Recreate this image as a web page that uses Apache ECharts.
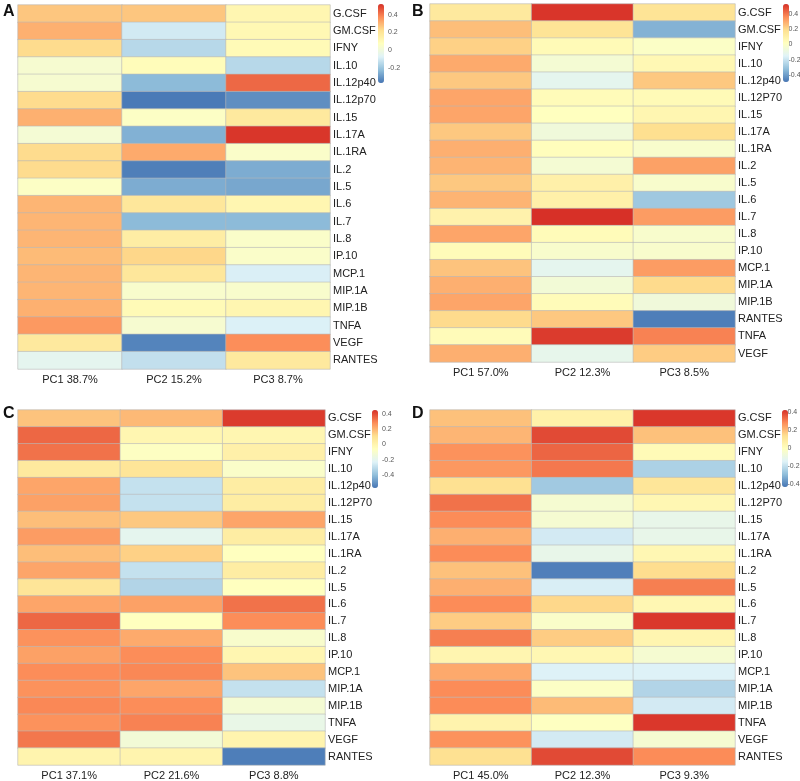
<!DOCTYPE html>
<html>
<head>
<meta charset="utf-8">
<script src="https://cdn.jsdelivr.net/npm/echarts@6/dist/echarts.min.js"></script>
<style>
  html, body { margin: 0; padding: 0; background: #fff; }
  #main { width: 800px; height: 781px; }
</style>
</head>
<body>
<div id="main"></div>
<script>
// columns shared by all panels
const pcsA = ['PC1 38.7%', 'PC2 15.2%', 'PC3 8.7%']
const pcsB = ['PC1 57.0%', 'PC2 12.3%', 'PC3 8.5%']
const pcsC = ['PC1 37.1%', 'PC2 21.6%', 'PC3 8.8%']
const pcsD = ['PC1 45.0%', 'PC2 12.3%', 'PC3 9.3%']

const rowsA = ['G.CSF', 'GM.CSF', 'IFNY', 'IL.10', 'IL.12p40', 'IL.12p70', 'IL.15', 'IL.17A', 'IL.1RA', 'IL.2', 'IL.5',
  'IL.6', 'IL.7', 'IL.8', 'IP.10', 'MCP.1', 'MIP.1A', 'MIP.1B', 'TNFA', 'VEGF', 'RANTES']
const rowsB = ['G.CSF', 'GM.CSF', 'IFNY', 'IL.10', 'IL.12p40', 'IL.12P70', 'IL.15', 'IL.17A', 'IL.1RA', 'IL.2', 'IL.5',
  'IL.6', 'IL.7', 'IL.8', 'IP.10', 'MCP.1', 'MIP.1A', 'MIP.1B', 'RANTES', 'TNFA', 'VEGF']
const rowsC = ['G.CSF', 'GM.CSF', 'IFNY', 'IL.10', 'IL.12p40', 'IL.12P70', 'IL.15', 'IL.17A', 'IL.1RA', 'IL.2', 'IL.5',
  'IL.6', 'IL.7', 'IL.8', 'IP.10', 'MCP.1', 'MIP.1A', 'MIP.1B', 'TNFA', 'VEGF', 'RANTES']
const rowsD = rowsC

// loadings per row: PC1, PC2, PC3
const valuesA = [
  [0.27, 0.27, 0.12], [0.31, -0.10, 0.11], [0.23, -0.15, 0.10], [0.03, 0.09, -0.15], [0.03, -0.23, 0.43],
  [0.23, -0.36, -0.32], [0.31, 0.06, 0.18], [0.02, -0.25, 0.51], [0.23, 0.32, 0.05], [0.23, -0.35, -0.26],
  [0.06, -0.26, -0.27], [0.30, 0.19, 0.12], [0.30, -0.23, -0.23], [0.30, 0.16, 0.05], [0.29, 0.24, 0.05],
  [0.30, 0.19, -0.085], [0.30, 0.04, 0.04], [0.31, 0.10, 0.12], [0.35, 0.03, -0.08], [0.18, -0.34, 0.37],
  [-0.05, -0.13, 0.18]
]
const valuesB = [
  [0.14, 0.52, 0.17], [0.26, 0.17, -0.35], [0.22, 0.05, 0.00], [0.30, -0.04, 0.06], [0.24, -0.12, 0.24],
  [0.31, 0.04, 0.05], [0.31, 0.02, 0.07], [0.24, -0.06, 0.19], [0.29, 0.03, -0.02], [0.28, -0.04, 0.32],
  [0.24, 0.10, -0.02], [0.28, 0.10, -0.29], [0.09, 0.53, 0.33], [0.31, 0.04, -0.02], [0.04, -0.02, -0.02],
  [0.25, -0.12, 0.33], [0.29, -0.05, 0.20], [0.31, 0.04, -0.06], [0.20, 0.24, -0.47], [0.04, 0.51, 0.38],
  [0.29, -0.11, 0.23]
]
const valuesC = [
  [0.17, 0.19, 0.43], [0.35, -0.01, -0.01], [0.33, -0.07, 0.02], [0.06, 0.08, -0.09], [0.23, -0.29, 0.04],
  [0.24, -0.29, 0.04], [0.18, 0.16, 0.23], [0.25, -0.20, 0.04], [0.18, 0.14, -0.06], [0.23, -0.29, 0.04],
  [0.08, -0.33, -0.06], [0.23, 0.24, 0.33], [0.35, -0.06, 0.28], [0.27, 0.22, -0.10], [0.24, 0.28, -0.01],
  [0.28, 0.29, 0.17], [0.27, 0.23, -0.29], [0.29, 0.28, -0.12], [0.27, 0.30, -0.18], [0.32, -0.13, 0.00],
  [0.00, 0.00, -0.55]
]
const valuesD = [
  [0.19, 0.06, 0.41], [0.21, 0.38, 0.19], [0.27, 0.34, 0.02], [0.26, 0.31, -0.24], [0.13, -0.26, 0.11],
  [0.32, -0.05, 0.03], [0.28, -0.05, -0.11], [0.22, -0.17, -0.11], [0.28, -0.11, 0.03], [0.19, -0.41, 0.14],
  [0.22, -0.16, 0.30], [0.28, 0.15, 0.03], [0.17, -0.03, 0.41], [0.30, 0.17, 0.04], [0.04, 0.03, -0.05],
  [0.23, -0.15, -0.15], [0.28, -0.02, -0.23], [0.28, 0.20, -0.17], [0.05, -0.01, 0.41], [0.27, -0.17, -0.05],
  [0.13, 0.38, 0.28]
]

// colour key ranges and their tick labels
const rangeA = [-0.37, 0.52]
const rangeB = [-0.49, 0.53]
const rangeC = [-0.57, 0.45]
const rangeD = [-0.43, 0.42]
const ticksA = [-0.2, 0, 0.2, 0.4]
const ticksB = [-0.4, -0.2, 0, 0.2, 0.4]
const ticksC = [-0.4, -0.2, 0, 0.2, 0.4]
const ticksD = [-0.4, -0.2, 0, 0.2, 0.4]

const palette = ['#4575B4', '#91BFDB', '#E0F3F8', '#FFFFBF', '#FEE090', '#FC8D59', '#D73027']

const panels = [
  { letter: 'A', cols: pcsA, rows: rowsA, vals: valuesA, range: rangeA, ticks: ticksA,
    box: { left: 18, top: 5, width: 312, height: 364 }, key: { left: 378, top: 4, height: 79 }, lx: 3, ly: 4 },
  { letter: 'B', cols: pcsB, rows: rowsB, vals: valuesB, range: rangeB, ticks: ticksB,
    box: { left: 430, top: 4, width: 305, height: 358 }, key: { left: 783, top: 4, height: 78 }, lx: 412, ly: 4 },
  { letter: 'C', cols: pcsC, rows: rowsC, vals: valuesC, range: rangeC, ticks: ticksC,
    box: { left: 18, top: 410, width: 307, height: 360 }, key: { left: 372, top: 410, height: 78 }, lx: 3, ly: 406 },
  { letter: 'D', cols: pcsD, rows: rowsD, vals: valuesD, range: rangeD, ticks: ticksD,
    box: { left: 430, top: 410, width: 305, height: 358 }, key: { left: 782, top: 410, height: 77 }, lx: 412, ly: 406 }
]

const grid = [], xAxis = [], yAxis = [], series = [], visualMap = [], graphic = []
const font = 'Liberation Sans, Arial, sans-serif'

panels.forEach((p, i) => {
  // heatmap grid
  grid.push(Object.assign({ containLabel: false }, p.box))
  xAxis.push({
    type: 'category', gridIndex: 2 * i, data: p.cols, position: 'bottom',
    axisLine: { show: false }, axisTick: { show: false }, splitLine: { show: false },
    axisLabel: { fontSize: 11, color: '#222', margin: 5, fontFamily: font }
  })
  yAxis.push({
    type: 'category', gridIndex: 2 * i, data: p.rows, position: 'right', inverse: true,
    axisLine: { show: false }, axisTick: { show: false }, splitLine: { show: false },
    axisLabel: { fontSize: 11, color: '#222', margin: 3, fontFamily: font }
  })
  const data = []
  p.vals.forEach((row, r) => row.forEach((v, c) => data.push([c, r, v])))
  series.push({
    type: 'heatmap', xAxisIndex: 2 * i, yAxisIndex: 2 * i, data: data,
    itemStyle: { borderColor: '#b8b8b8', borderWidth: 0.6 },
    emphasis: { disabled: true }
  })
  visualMap.push({
    type: 'continuous', seriesIndex: i, min: p.range[0], max: p.range[1],
    inRange: { color: palette }, calculable: false, text: null, showLabel: false,
    left: p.key.left, top: p.key.top, itemWidth: 6, itemHeight: p.key.height, padding: 0
  })

  // colour key tick labels on a small value axis over the bar
  grid.push({ left: p.key.left, top: p.key.top, width: 6, height: p.key.height })
  xAxis.push({ type: 'value', gridIndex: 2 * i + 1, show: false })
  yAxis.push({
    type: 'value', gridIndex: 2 * i + 1, min: p.range[0], max: p.range[1], position: 'right',
    axisLine: { show: false }, axisTick: { show: false }, splitLine: { show: false },
    axisLabel: { customValues: p.ticks, fontSize: 7, color: '#555', margin: 4, fontFamily: font,
      formatter: v => String(Math.round(v * 10) / 10) }
  })

  graphic.push({
    type: 'text', left: p.lx, top: p.ly,
    style: { text: p.letter, font: 'bold 16px ' + font, fill: '#111' }
  })
})

const chart = echarts.init(document.getElementById('main'))
chart.setOption({
  animation: false,
  backgroundColor: '#fff',
  grid, xAxis, yAxis, series, visualMap, graphic
})
</script>
</body>
</html>
